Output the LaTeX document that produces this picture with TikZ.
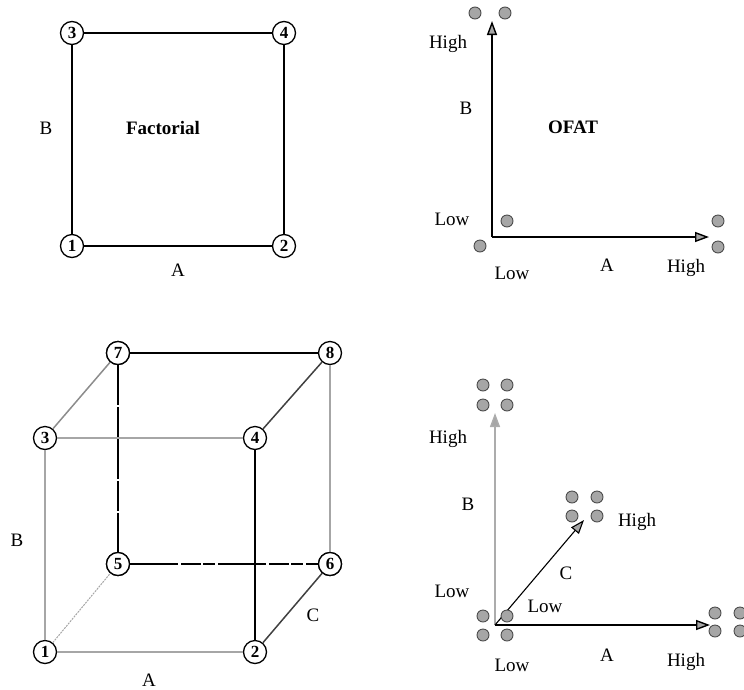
\documentclass[tikz,border=0pt]{standalone}
\usepackage{fontspec}
\setmainfont{Liberation Serif}
\usetikzlibrary{arrows.meta}

\begin{document}
\begin{tikzpicture}[
x=1pt, y=-1pt,
pt/.style={
draw,
circle,
line width=1.3pt,
fill=white,
inner sep=0pt,
minimum size=23pt,
font=\fontsize{17}{17}\selectfont\bfseries
},
dot/.style={
draw=black!70,
circle,
fill=gray!70,
inner sep=0pt,
minimum size=12pt,
line width=0.9pt
},
lbl/.style={
font=\fontsize{19}{22}\selectfont
},
axis/.style={
line width=1.4pt,
-{Triangle[length=14pt,width=10pt,fill=gray!70]}
},
edge/.style={line width=1.6pt},
back/.style={line width=1.5pt, draw=gray!70}
]
\useasboundingbox (0,0) rectangle (744,689);

% factorial square
\node[pt] (F1) at (72,246) {1};
\node[pt] (F2) at (284,246) {2};
\node[pt] (F3) at (72,33) {3};
\node[pt] (F4) at (284,33) {4};

\draw[edge] (F1) -- (F2);
\draw[edge] (F1) -- (F3);
\draw[edge] (F3) -- (F4);
\draw[edge] (F2) -- (F4);

\node[lbl] (FB) at (46,128) {B};
\node[lbl] (FA) at (178,270) {A};
\node[lbl,font=\fontsize{19}{22}\selectfont\bfseries] (FT) at (163,128) {Factorial};

% OFAT, two factors
\coordinate (O) at (492,237);
\coordinate (OB) at (492,21);
\coordinate (OA) at (709,237);

\draw[axis] (O) -- (OB);
\draw[axis] (O) -- (OA);

\node[dot] (o1) at (480,246) {};
\node[dot] (o2) at (507,221) {};
\node[dot] (o3) at (475,13) {};
\node[dot] (o4) at (505,13) {};
\node[dot] (o5) at (718,221) {};
\node[dot] (o6) at (718,247) {};

\node[lbl] (OHB) at (448,44) {High};
\node[lbl] (OLB) at (452,219) {Low};
\node[lbl] (OBl) at (466,108) {B};
\node[lbl,font=\fontsize{19}{22}\selectfont\bfseries] (OT) at (573,127) {OFAT};
\node[lbl] (OLA) at (512,273) {Low};
\node[lbl] (OAl) at (607,265) {A};
\node[lbl] (OHA) at (686,268) {High};

% factorial cube
\node[pt] (C1) at (45,652) {1};
\node[pt] (C2) at (255,652) {2};
\node[pt] (C3) at (45,438) {3};
\node[pt] (C4) at (255,438) {4};
\node[pt] (C5) at (118,564) {5};
\node[pt] (C6) at (330,564) {6};
\node[pt] (C7) at (118,353) {7};
\node[pt] (C8) at (330,353) {8};

\draw[back] (C1) -- (C2);
\draw[back] (C1) -- (C3);
\draw[back] (C3) -- (C4);
\draw[back] (C6) -- (C8);
\draw[back, line width=1pt, dash pattern=on 2pt off 1pt] (C1) -- (C5);
\draw[back, draw=gray!110!black] (C3) -- (C7);
\draw[back, draw=black!75] (C4) -- (C8);
\draw[back, draw=black!75] (C2) -- (C6);
\draw[edge] (C7) -- (C8);
\draw[edge] (C4) -- (C2);
\draw[line width=2.6pt, dash pattern=on 40pt off 2pt on 30pt off 2pt] (C7) -- (C5);
\draw[line width=2.6pt, dash pattern=on 48pt off 3pt on 20pt off 2pt on 12pt off 3pt] (C5) -- (C6);

\node[pt] at (C5) {5};
\node[pt] at (C6) {6};
\node[pt] at (C7) {7};

\node[lbl] (CB) at (17,540) {B};
\node[lbl] (CC) at (313,615) {C};
\node[lbl] (CA) at (149,680) {A};

% OFAT, three factors
\coordinate (T) at (495,625);
\coordinate (TB) at (495,413);
\coordinate (TA) at (710,625);
\coordinate (TC) at (584,520);

\draw[axis, draw=gray!65] (T) -- (TB);
\draw[axis] (T) -- (TA);
\draw[axis, line width=1.1pt] (T) -- (TC);

\foreach \x/\y [count=\i] in {483/616, 507/616, 483/635, 507/635,
483/385, 507/385, 483/405, 507/405,
572/497, 597/497, 572/516, 597/516,
715/613, 740/613, 715/631, 740/631}
\node[dot] (t\i) at (\x,\y) {};

\node[lbl] (THB) at (448,439) {High};
\node[lbl] (TBl) at (468,504) {B};
\node[lbl] (TLB) at (452,591) {Low};
\node[lbl] (THC) at (637,522) {High};
\node[lbl] (TCl) at (566,573) {C};
\node[lbl] (TLC) at (545,606) {Low};
\node[lbl] (TLA) at (512,665) {Low};
\node[lbl] (TAl) at (607,655) {A};
\node[lbl] (THA) at (686,662) {High};

\end{tikzpicture}
\end{document}
